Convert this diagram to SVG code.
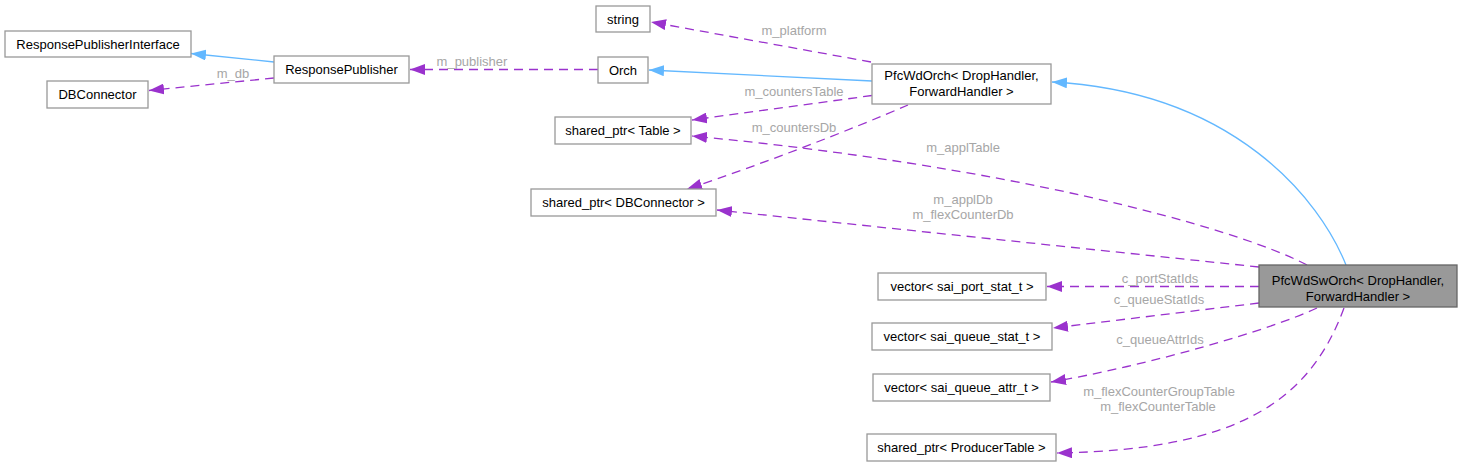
<svg xmlns="http://www.w3.org/2000/svg" width="1462" height="467" viewBox="0 0 1462 467">
<style>
.box{fill:#fff;stroke:#999;stroke-width:1.3}
.dark{fill:#999;stroke:#666;stroke-width:1.3}
.t{font-family:"Liberation Sans",Arial,sans-serif;font-size:13px;fill:#000;text-anchor:middle}
.lbl{font-family:"Liberation Sans",Arial,sans-serif;font-size:13px;fill:#a6a6a6;text-anchor:middle}
.use{fill:none;stroke:#9a32cd;stroke-width:1.3;stroke-dasharray:9,6}
.inh{fill:none;stroke:#63b8ff;stroke-width:1.3}
</style>
<defs>
<marker id="ap" markerUnits="userSpaceOnUse" markerWidth="16" markerHeight="11" refX="15" refY="5.5" orient="auto">
<path d="M0,0 L15,5.5 L0,11 z" fill="#9a32cd"/>
</marker>
<marker id="ab" markerUnits="userSpaceOnUse" markerWidth="16" markerHeight="11" refX="15" refY="5.5" orient="auto">
<path d="M0,0 L15,5.5 L0,11 z" fill="#63b8ff"/>
</marker>
</defs>
<g id="connectors">
<path class="inh" d="M274,62 L191,53.5" marker-end="url(#ab)"/>
<path class="use" d="M274,78 L149,90.5" marker-end="url(#ap)"/>
<path class="use" d="M598,69.5 L410,69.5" marker-end="url(#ap)"/>
<path class="inh" d="M872,81 L649,70" marker-end="url(#ab)"/>
<path class="use" d="M871,62 L651,22" marker-end="url(#ap)"/>
<path class="use" d="M872,95.5 L692,120" marker-end="url(#ap)"/>
<path class="use" d="M908,105 C850,130 760,165 687,189" marker-end="url(#ap)"/>
<path class="use" d="M1307,265 C1230,225 1000,165 692,136" marker-end="url(#ap)"/>
<path class="use" d="M1259,267 L717,210" marker-end="url(#ap)"/>
<path class="inh" d="M1346,265 C1320,200 1235,92 1052,82" marker-end="url(#ab)"/>
<path class="use" d="M1259,286.5 L1047,286.5" marker-end="url(#ap)"/>
<path class="use" d="M1259,303 L1053,328" marker-end="url(#ap)"/>
<path class="use" d="M1317,308 C1270,330 1150,365 1051,382" marker-end="url(#ap)"/>
<path class="use" d="M1344,308 C1310,400 1240,450 1057,453" marker-end="url(#ap)"/>
<text class="lbl" x="233" y="78">m_db</text>
<text class="lbl" x="472" y="66">m_publisher</text>
<text class="lbl" x="794" y="35">m_platform</text>
<text class="lbl" x="794" y="96">m_countersTable</text>
<text class="lbl" x="794" y="132">m_countersDb</text>
<text class="lbl" x="963" y="152">m_applTable</text>
<text class="lbl" x="963" y="204">m_applDb</text>
<text class="lbl" x="963" y="219">m_flexCounterDb</text>
<text class="lbl" x="1160" y="283">c_portStatIds</text>
<text class="lbl" x="1159" y="304">c_queueStatIds</text>
<text class="lbl" x="1160" y="344">c_queueAttrIds</text>
<text class="lbl" x="1159" y="396">m_flexCounterGroupTable</text>
<text class="lbl" x="1158" y="411">m_flexCounterTable</text>
</g>
<g id="n_rpi"><rect class="box" x="5" y="31" width="186" height="26"/><text class="t" x="98" y="48.5">ResponsePublisherInterface</text></g>
<g id="n_dbc"><rect class="box" x="47" y="81" width="101" height="27"/><text class="t" x="97.5" y="99">DBConnector</text></g>
<g id="n_rp"><rect class="box" x="274" y="56" width="135" height="27"/><text class="t" x="341.5" y="74">ResponsePublisher</text></g>
<g id="n_string"><rect class="box" x="596" y="6" width="54" height="26"/><text class="t" x="623" y="23.5">string</text></g>
<g id="n_orch"><rect class="box" x="598" y="57" width="50" height="26"/><text class="t" x="623" y="74.5">Orch</text></g>
<g id="n_pfcwdorch"><rect class="box" x="872" y="64" width="179" height="40"/><text class="t" x="961.5" y="80">PfcWdOrch&lt; DropHandler,</text><text class="t" x="961.5" y="96">ForwardHandler &gt;</text></g>
<g id="n_sptable"><rect class="box" x="555" y="117" width="136" height="27"/><text class="t" x="623" y="135">shared_ptr&lt; Table &gt;</text></g>
<g id="n_spdbc"><rect class="box" x="531" y="189" width="185" height="27"/><text class="t" x="623.5" y="207">shared_ptr&lt; DBConnector &gt;</text></g>
<g id="n_pfcwdsworch"><rect class="dark" x="1259" y="265" width="198" height="42"/><text class="t" x="1358" y="285">PfcWdSwOrch&lt; DropHandler,</text><text class="t" x="1358" y="301">ForwardHandler &gt;</text></g>
<g id="n_vport"><rect class="box" x="878" y="273" width="168" height="27"/><text class="t" x="962" y="291">vector&lt; sai_port_stat_t &gt;</text></g>
<g id="n_vqstat"><rect class="box" x="872" y="323" width="180" height="27"/><text class="t" x="962" y="341">vector&lt; sai_queue_stat_t &gt;</text></g>
<g id="n_vqattr"><rect class="box" x="873" y="374" width="177" height="27"/><text class="t" x="961.5" y="392">vector&lt; sai_queue_attr_t &gt;</text></g>
<g id="n_spprod"><rect class="box" x="867" y="434" width="189" height="27"/><text class="t" x="961.5" y="452">shared_ptr&lt; ProducerTable &gt;</text></g>
</svg>
